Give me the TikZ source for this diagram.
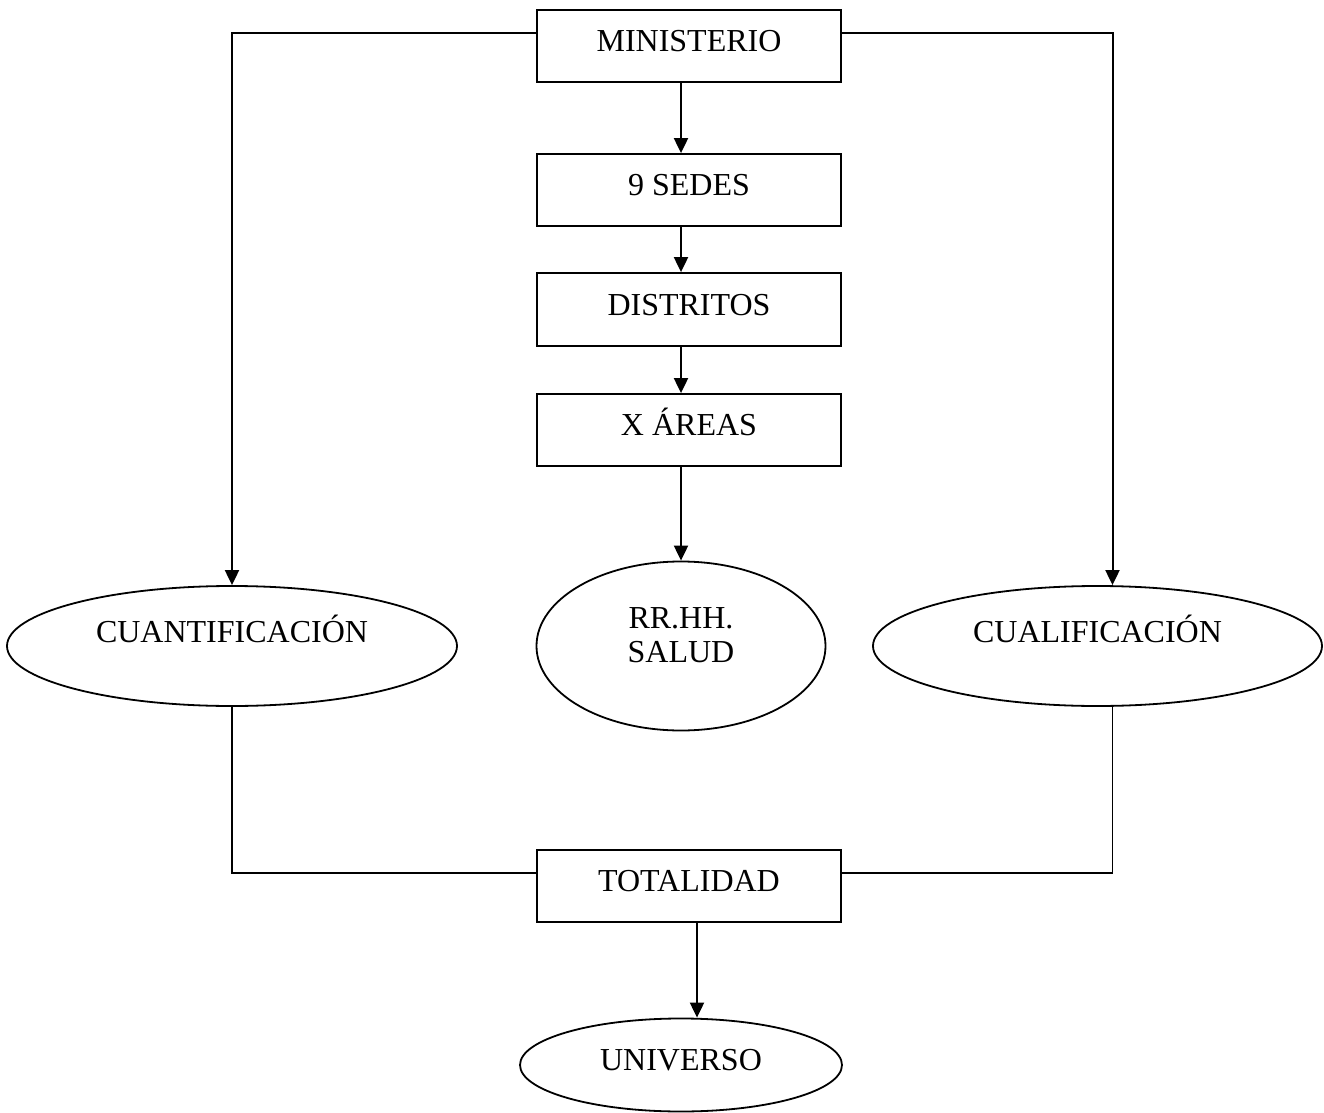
\documentclass[tikz,border=0pt]{standalone}
\usepackage{fontspec}
\setmainfont{Liberation Serif}
\usetikzlibrary{arrows.meta,shapes.geometric}
\tikzset{
  base/.style={font=\fontsize{16}{17}\selectfont, inner sep=2pt, line width=0.9pt, draw=black},
  boxnode/.style={base, rectangle, minimum width=152pt, minimum height=36pt, text height=12pt, text depth=6.4pt},
  ovalnode/.style={base, ellipse},
  arr/.style={line width=1pt, -{Triangle[length=7.5pt,width=7pt]}},
  plain/.style={line width=0.9pt}
}
\begin{document}
\begin{tikzpicture}[x=0.5pt,y=-0.5pt]
\useasboundingbox (0,0) rectangle (1324,1113);
\node[boxnode] (min) at (689,46) {MINISTERIO};
\node[boxnode] (sedes) at (689,190) {9 SEDES};
\node[boxnode, minimum height=36.5pt] (dist) at (689,309.5) {DISTRITOS};
\node[boxnode] (areas) at (689,430) {X ÁREAS};
\node[ovalnode, minimum width=144.5pt, minimum height=84.5pt, align=center, text height=20pt, text depth=3.4pt] (rrhh) at (681,646) {RR.HH.\\SALUD};
\node[ovalnode, minimum width=225pt, minimum height=60pt, text height=8pt, text depth=11.4pt] (cuant) at (232,646) {CUANTIFICACIÓN};
\node[ovalnode, minimum width=224.5pt, minimum height=60pt, text height=8pt, text depth=11.4pt] (cual) at (1097.5,646) {CUALIFICACIÓN};
\node[boxnode] (total) at (689,886) {TOTALIDAD};
\node[ovalnode, minimum width=161pt, minimum height=46.5pt, text height=12pt, text depth=6.4pt] (univ) at (681,1065) {UNIVERSO};

\draw[arr] (min.south -| rrhh) -- (sedes.north -| rrhh);
\draw[arr] (sedes.south -| rrhh) -- (dist.north -| rrhh);
\draw[arr] (dist.south -| rrhh) -- (areas.north -| rrhh);
\draw[arr] (areas.south -| rrhh) -- (rrhh.north);
\draw[arr] ([yshift=6.5pt]min.west) -| (cuant.north);
\draw[arr] ([yshift=6.5pt]min.east) -| ([xshift=7.5pt]cual.north);
\draw[plain] (cuant.south) |- ([yshift=6.5pt]total.west);
\draw[plain] ([xshift=7.5pt]cual.south) |- ([yshift=6.5pt]total.east);
\draw[arr] ([xshift=4pt]total.south) -- ([xshift=4pt]total.south |- univ.north);
\end{tikzpicture}
\end{document}
